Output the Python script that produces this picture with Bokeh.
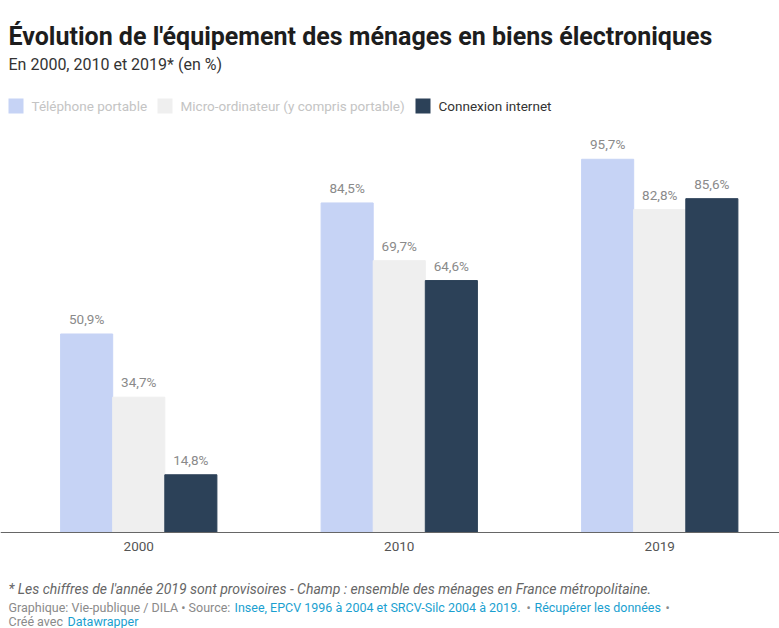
from bokeh.plotting import figure
from bokeh.models import ColumnDataSource, Range1d, Label, BoxAnnotation, Span
from bokeh.transform import dodge
from bokeh.core.properties import value
from bokeh.embed import file_html
from bokeh.resources import INLINE

# ---- data ----
years = ["2000", "2010", "2019"]
series = ["Téléphone portable", "Micro-ordinateur (y compris portable)", "Connexion internet"]
telephone = [50.9, 84.5, 95.7]
micro = [34.7, 69.7, 82.8]
internet = [14.8, 64.6, 85.6]
colors = ["#c6d3f5", "#efefef", "#2c4158"]

FONT = "Roboto"
W, H = 779, 628
GROUP_PX = 260.5      # pixels per year group
X0_PX = 8             # left edge of first group
BASE_PX = 532         # baseline (picture y)
PX_PER_UNIT = 3.9


def fmt(v):
    return f"{v:.1f}".replace(".", ",") + "%"


src = ColumnDataSource(dict(
    x=list(range(len(years))), years=years,
    telephone=telephone, micro=micro, internet=internet,
    tel_lbl=[fmt(v) for v in telephone],
    mic_lbl=[fmt(v) for v in micro],
    int_lbl=[fmt(v) for v in internet],
))

x_start = -0.5 - X0_PX / GROUP_PX
p = figure(width=W, height=H,
           x_range=Range1d(x_start, x_start + W / GROUP_PX),
           y_range=Range1d(-(H - BASE_PX) / PX_PER_UNIT, BASE_PX / PX_PER_UNIT),
           output_backend="svg", toolbar_location=None,
           x_axis_location=None, y_axis_location=None,
           min_border=0)
p.outline_line_color = None
p.xgrid.visible = False
p.ygrid.visible = False
p.background_fill_color = "white"
p.border_fill_color = "white"

BW = 0.2
for field, lbl, off, col in [("telephone", "tel_lbl", -BW, colors[0]),
                             ("micro", "mic_lbl", 0.0, colors[1]),
                             ("internet", "int_lbl", BW, colors[2])]:
    p.vbar(x=dodge("x", off), top=field, width=BW, bottom=0, source=src,
           fill_color=col, line_color=col)
    p.text(x=dodge("x", off), y=field, text=lbl, source=src,
           text_align="center", text_baseline="bottom", y_offset=-7,
           text_font=value(FONT), text_font_size="13.5px", text_color="#8a8a8a")

# x axis line and year labels
p.add_layout(Span(location=0, dimension="width", line_color="#666666", line_width=1))
p.text(x="x", y=0, text="years", source=src, text_align="center", text_baseline="top",
       y_offset=9, text_font=value(FONT), text_font_size="13.5px", text_color="#555555")


def screen_label(x, y_pic, text, size, color, style="normal", baseline="alphabetic"):
    p.add_layout(Label(x=x, y=H - y_pic, x_units="screen", y_units="screen",
                       text=text, text_font=FONT, text_font_size=size,
                       text_color=color, text_font_style=style, text_baseline=baseline))


# title & subtitle
screen_label(8, 36, "Évolution de l'équipement des ménages en biens électroniques", "25px", "#1d1d1d", "bold")
screen_label(8, 64, "En 2000, 2010 et 2019* (en %)", "16px", "#333333")

# legend
leg_x = [8, 157, 415]
leg_text_col = ["#c4c4c4", "#c4c4c4", "#333333"]
for i, name in enumerate(series):
    top = H - 98
    p.add_layout(BoxAnnotation(left=leg_x[i], right=leg_x[i] + 15, top=top, bottom=top - 15,
                               left_units="screen", right_units="screen",
                               top_units="screen", bottom_units="screen",
                               fill_color=colors[i], fill_alpha=1, line_color=None))
    screen_label(leg_x[i] + 23, 105.5, name, "13.5px", leg_text_col[i], baseline="middle")

# footer
screen_label(8, 588, "* Les chiffres de l'année 2019 sont provisoires - Champ : ensemble des ménages en France métropolitaine.",
             "14px", "#666666", "italic")
grey, blue = "#8a8a8a", "#1a9fd0"
FS = "12.5px"
screen_label(8, 607, "Graphique: Vie-publique / DILA • Source:", FS, grey)
screen_label(234, 607, "Insee, EPCV 1996 à 2004 et SRCV-Silc 2004 à 2019.", FS, blue)
screen_label(526, 607, "•", FS, grey)
screen_label(534, 607, "Récupérer les données", FS, blue)
screen_label(665, 607, "•", FS, grey)
screen_label(8, 621, "Créé avec", FS, grey)
screen_label(67, 621, "Datawrapper", FS, blue)

open("out.html", "w").write(file_html(p, INLINE))
